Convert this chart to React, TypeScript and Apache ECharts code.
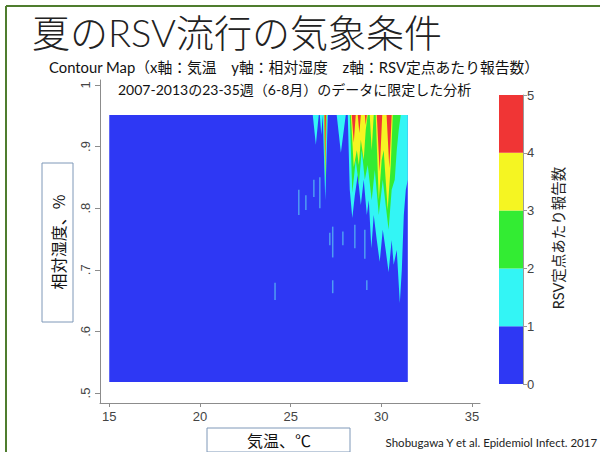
import React, { useEffect, useRef } from "react";
import * as echarts from "echarts";

// ---- data ----
const TOP = 0.951;
const dataXRange = [15, 31.46];
const dataYRange = [0.518, 0.951];
const xTicks = [15, 20, 25, 30, 35];
const yTicks = [0.5, 0.6, 0.7, 0.8, 0.9, 1];
const levelColors = ["#2e38f4", "#33f5f5", "#33ec33", "#f5f522", "#f03535"];
const levelBands = [1, 1, 1, 1, 1];

// lower boundary of region with z >= 1 (cyan)
const cyanEdge = [
  [26.22, TOP], [26.39, 0.903], [26.55, TOP],
  [26.61, TOP], [26.69, 0.919], [26.77, TOP],
  [26.77, TOP], [26.91, 0.813], [27.05, TOP],
  [27.54, TOP], [27.77, 0.89], [28.04, TOP],
  [28.15, TOP], [28.26, 0.83], [28.4, 0.784], [28.54, 0.821], [28.7, 0.854],
  [28.87, 0.805], [29.03, 0.846], [29.2, 0.789], [29.31, 0.813], [29.45, 0.735],
  [29.58, 0.789], [29.75, 0.748], [29.91, 0.713], [30.08, 0.765], [30.24, 0.732],
  [30.4, 0.696], [30.57, 0.748], [30.68, 0.708], [30.85, 0.732], [31.02, 0.646],
  [31.13, 0.7], [31.24, 0.789], [31.35, 0.83], [31.46, 0.846], [31.46, TOP],
];
// z >= 2 (green)
const greenEdge = [
  [26.83, TOP], [26.91, 0.838], [26.99, TOP],
  [28.26, TOP], [28.4, 0.825], [28.59, 0.878], [28.76, 0.838], [28.92, 0.894],
  [29.09, 0.846], [29.25, 0.87], [29.47, 0.813], [29.64, 0.862], [29.86, 0.789],
  [30.08, 0.846], [30.24, 0.805], [30.4, 0.765], [30.57, 0.83], [30.74, 0.846],
  [30.85, 0.894], [30.96, 0.927], [31.07, TOP],
];
// z >= 3 (yellow)
const yellowEdge = [
  [26.86, TOP], [26.91, 0.849], [26.97, TOP],
  [28.32, TOP], [28.48, 0.867], [28.65, 0.894], [28.76, 0.87], [28.87, 0.911],
  [29.03, 0.878], [29.14, 0.927], [29.25, TOP],
  [29.36, TOP], [29.47, 0.894], [29.58, TOP],
  [29.69, TOP], [29.86, 0.813], [30.02, 0.878], [30.13, 0.894], [30.35, 0.797],
  [30.52, 0.87], [30.63, TOP],
];
// z >= 4 (red)
const redEdge = [
  [26.87, TOP], [26.91, 0.865], [26.95, TOP],
  [28.37, TOP], [28.48, 0.906], [28.59, TOP],
  [28.7, TOP], [28.79, 0.922], [28.87, TOP],
  [29.09, TOP], [29.14, 0.935], [29.2, TOP],
  [29.75, TOP], [29.91, 0.859], [30.05, TOP],
  [30.29, TOP], [30.44, 0.865], [30.57, TOP],
];
// isolated thin streaks [x, yTop, yBottom]
const streaks = [
  [24.14, 0.679, 0.651],
  [25.45, 0.83, 0.789],
  [25.84, 0.821, 0.797],
  [26.28, 0.846, 0.818],
  [26.61, 0.85, 0.8],
  [27.16, 0.76, 0.74],
  [27.32, 0.77, 0.72],
  [27.88, 0.762, 0.74],
  [28.54, 0.773, 0.735],
  [29.09, 0.765, 0.718],
  [27.32, 0.683, 0.662],
  [29.2, 0.683, 0.667],
];

const LATIN = "'Liberation Sans', Arial, sans-serif";
const JP = "'Noto Sans CJK JP', sans-serif";
const MIX = "Lato, 'Noto Sans CJK JP', sans-serif";

function polySeries(edge: number[][], color: string, z: number) {
  return {
    type: "custom",
    xAxisIndex: 0,
    yAxisIndex: 0,
    z,
    silent: true,
    data: edge,
    renderItem: (params: any, api: any) => {
      if (params.dataIndex !== 0) return null;
      const pts = edge.map((p) => api.coord(p));
      return { type: "polygon", shape: { points: pts }, style: { fill: color } };
    },
  };
}

export default function App() {
  const ref = useRef<HTMLDivElement>(null);
  useEffect(() => {
    if (!ref.current) return;
    const chart = echarts.init(ref.current, undefined, { renderer: "svg" });
    const axisLineStyle = { color: "#8c8c8c", width: 1 };
    const option: any = {
      animation: false,
      backgroundColor: "#ffffff",
      grid: [
        { left: 100, top: 80, width: 380, height: 323 },
        { left: 499, top: 95, width: 24, height: 289 },
      ],
      xAxis: [
        {
          type: "value",
          gridIndex: 0,
          min: 14.49,
          max: 35.44,
          axisLine: { show: true, lineStyle: axisLineStyle },
          axisTick: { show: true, length: 4, lineStyle: axisLineStyle, customValues: xTicks },
          axisLabel: {
            customValues: xTicks,
            color: "#444",
            fontSize: 13,
            fontFamily: LATIN,
            margin: 7,
          },
          splitLine: { show: false },
        },
        {
          type: "category",
          gridIndex: 1,
          data: ["z"],
          show: false,
        },
      ],
      yAxis: [
        {
          type: "value",
          gridIndex: 0,
          min: 0.4838,
          max: 1.008,
          axisLine: { show: true, lineStyle: axisLineStyle },
          axisTick: { show: true, length: 5, lineStyle: axisLineStyle, customValues: yTicks },
          axisLabel: {
            customValues: yTicks,
            rotate: 90,
            color: "#444",
            fontSize: 13,
            fontFamily: LATIN,
            margin: 8,
            formatter: (v: number) => (v === 1 ? "1" : String(v).replace(/^0/, "")),
          },
          splitLine: { show: false },
        },
        {
          type: "value",
          gridIndex: 1,
          min: 0,
          max: 5,
          interval: 1,
          position: "right",
          axisLine: { show: true, lineStyle: { color: "#9a9a9a", width: 1 } },
          axisTick: { show: true, length: 4, lineStyle: { color: "#9a9a9a" } },
          axisLabel: { color: "#444", fontSize: 13, fontFamily: LATIN, margin: 4 },
          splitLine: { show: false },
        },
      ],
      series: [
        {
          type: "custom",
          xAxisIndex: 0,
          yAxisIndex: 0,
          z: 1,
          silent: true,
          data: [[dataXRange[0], dataYRange[0], dataXRange[1], dataYRange[1]]],
          encode: { x: [0, 2], y: [1, 3] },
          renderItem: (params: any, api: any) => {
            const a = api.coord([api.value(0), api.value(3)]);
            const b = api.coord([api.value(2), api.value(1)]);
            return {
              type: "rect",
              shape: { x: a[0], y: a[1], width: b[0] - a[0], height: b[1] - a[1] },
              style: { fill: levelColors[0] },
            };
          },
        },
        {
          type: "custom",
          xAxisIndex: 0,
          yAxisIndex: 0,
          z: 2,
          silent: true,
          data: streaks,
          encode: { x: 0, y: [1, 2] },
          renderItem: (params: any, api: any) => {
            const a = api.coord([api.value(0), api.value(1)]);
            const b = api.coord([api.value(0), api.value(2)]);
            return {
              type: "line",
              shape: { x1: a[0], y1: a[1], x2: b[0], y2: b[1] },
              style: { stroke: "#4f9cf2", lineWidth: 1.5 },
            };
          },
        },
        polySeries(cyanEdge, levelColors[1], 3),
        polySeries(greenEdge, levelColors[2], 4),
        polySeries(yellowEdge, levelColors[3], 5),
        polySeries(redEdge, levelColors[4], 6),
        ...levelBands.map((v, i) => ({
          type: "bar",
          xAxisIndex: 1,
          yAxisIndex: 1,
          stack: "scale",
          barWidth: "100%",
          silent: true,
          data: [v],
          itemStyle: { color: levelColors[i] },
        })),
      ],
      graphic: [
        { type: "line", shape: { x1: 6, y1: 6, x2: 600, y2: 6 }, style: { stroke: "#4f7d2e", lineWidth: 2 } },
        { type: "line", shape: { x1: 6, y1: 6, x2: 6, y2: 452 }, style: { stroke: "#4f7d2e", lineWidth: 2 } },
        {
          type: "text",
          left: 32,
          top: 13,
          style: {
            text: "夏のRSV流行の気象条件",
            fontSize: 38,
            lineHeight: 38,
            fontFamily: "Lato, 'Noto Sans CJK JP', sans-serif",
            fontWeight: 300,
            fill: "#222",
          },
        },
        {
          type: "text",
          left: 49,
          top: 59,
          style: {
            text: "Contour Map（x軸：気温　y軸：相対湿度　z軸：RSV定点あたり報告数）",
            fontSize: 14.8,
            lineHeight: 15,
            fontFamily: MIX,
            fill: "#111",
          },
        },
        {
          type: "text",
          left: 118,
          top: 82,
          style: {
            text: "2007-2013の23-35週（6-8月）のデータに限定した分析",
            fontSize: 14,
            lineHeight: 15,
            fontFamily: MIX,
            fill: "#111",
          },
        },
        { type: "rect", shape: { x: 42, y: 163, width: 31, height: 159 }, style: { fill: "#fff", stroke: "#7f98b8", lineWidth: 1 } },
        {
          type: "text",
          x: 57.5,
          y: 242,
          rotation: Math.PI / 2,
          style: { text: "相対湿度、%", fontSize: 16, fontFamily: JP, fill: "#111", align: "center", verticalAlign: "middle" },
        },
        { type: "rect", shape: { x: 207, y: 428, width: 143, height: 24 }, style: { fill: "#fff", stroke: "#7f98b8", lineWidth: 1 } },
        {
          type: "text",
          x: 279,
          y: 440,
          style: { text: "気温、℃", fontSize: 16, fontFamily: JP, fill: "#111", align: "center", verticalAlign: "middle" },
        },
        {
          type: "text",
          x: 558,
          y: 238,
          rotation: Math.PI / 2,
          style: { text: "RSV定点あたり報告数", fontSize: 14.5, fontFamily: MIX, fill: "#222", align: "center", verticalAlign: "middle" },
        },
        {
          type: "text",
          right: 2,
          top: 437,
          style: { text: "Shobugawa Y et al. Epidemiol Infect. 2017", fontSize: 11.5, fontFamily: MIX, fill: "#222" },
        },
      ],
    };
    chart.setOption(option);
    return () => chart.dispose();
  }, []);
  return (
    <div
      ref={ref}
      style={{ position: "fixed", left: 0, top: 0, width: 600, height: 452, background: "#fff" }}
    />
  );
}
